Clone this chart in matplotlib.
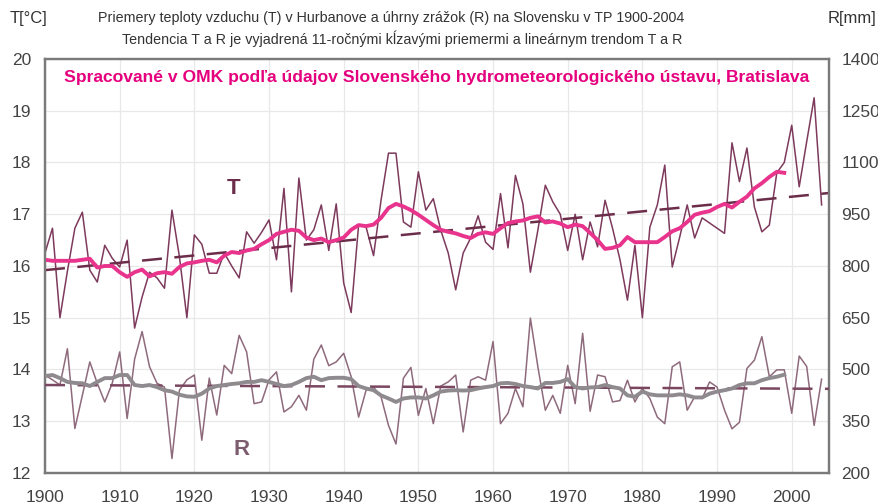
import numpy as np
import matplotlib.pyplot as plt

plt.rcParams['font.family'] = ['Liberation Sans', 'DejaVu Sans']

years = np.arange(1900, 2005)

# annual mean temperature (upper series, left axis)
temp = [16.25, 16.73, 15.0, 15.9, 16.73, 17.04, 15.92, 15.69, 16.4, 16.15,
        15.98, 16.5, 14.8, 15.4, 15.88, 15.77, 15.57, 17.08, 16.18, 15.0,
        16.6, 16.42, 15.86, 15.86, 16.25, 16.0, 15.77, 16.66, 16.44, 16.65,
        16.89, 16.12, 17.5, 15.5, 17.7, 16.5, 16.7, 17.18, 16.3, 17.2,
        15.67, 15.1, 16.8, 16.75, 16.2, 17.27, 18.18, 18.18, 16.85, 16.75,
        17.82, 17.08, 17.3, 16.69, 16.25, 15.54, 16.25, 16.54, 16.97, 16.46,
        16.32, 17.4, 16.35, 17.75, 17.2, 15.88, 16.69, 17.56, 17.24, 17.0,
        16.3, 17.0, 16.12, 16.85, 16.37, 17.27, 16.73, 16.12, 15.34, 16.4,
        15.0, 16.75, 17.18, 17.95, 15.98, 16.56, 17.18, 16.54, 16.93, 16.83,
        16.73, 16.63, 18.38, 17.63, 18.28, 17.14, 16.66, 16.79, 17.8, 18.0,
        18.72, 17.53, 18.4, 19.25, 17.18]

# 11-year moving average of T, as drawn (1900-1999)
smooth_years = np.arange(1900, 2000)
temp_smooth = [16.12, 16.1, 16.1, 16.1, 16.1, 16.12, 16.14, 15.97, 16.0, 16.0,
               15.88, 15.79, 15.88, 15.93, 15.8, 15.86, 15.88, 15.85, 15.98, 16.05,
               16.07, 16.1, 16.12, 16.07, 16.2, 16.27, 16.25, 16.3, 16.33, 16.42,
               16.5, 16.62, 16.66, 16.7, 16.68, 16.55, 16.5, 16.53, 16.46, 16.5,
               16.55, 16.7, 16.79, 16.77, 16.8, 16.93, 17.12, 17.2, 17.15, 17.08,
               16.99, 16.89, 16.79, 16.7, 16.66, 16.63, 16.58, 16.54, 16.62, 16.65,
               16.62, 16.73, 16.83, 16.86, 16.88, 16.93, 16.96, 16.84, 16.86, 16.82,
               16.75, 16.8, 16.77, 16.64, 16.5, 16.33, 16.35, 16.4, 16.56, 16.46,
               16.46, 16.46, 16.46, 16.56, 16.67, 16.73, 16.85, 16.99, 17.03, 17.06,
               17.14, 17.2, 17.13, 17.24, 17.34, 17.5, 17.6, 17.72, 17.82, 17.8]

# annual precipitation in mm (lower series, right axis)
rain = [484, 470, 455, 560, 329, 425, 522, 460, 406, 460,
        551, 358, 530, 610, 508, 460, 449, 242, 440, 470,
        484, 295, 475, 368, 512, 488, 599, 551, 401, 406,
        470, 493, 377, 392, 425, 382, 530, 571, 511, 522,
        547, 479, 362, 440, 449, 421, 338, 284, 475, 506,
        367, 445, 343, 452, 464, 484, 319, 469, 479, 469,
        581, 343, 373, 445, 392, 649, 508, 382, 425, 373,
        512, 401, 605, 379, 484, 479, 406, 410, 469, 406,
        445, 416, 362, 343, 508, 522, 382, 421, 416, 464,
        449, 382, 328, 347, 503, 527, 595, 479, 499, 499,
        373, 539, 509, 338, 472]

rain_smooth = [481, 484, 475, 464, 461, 460, 452, 464, 475, 475,
               484, 484, 455, 452, 455, 449, 440, 436, 427, 422,
               421, 430, 445, 452, 455, 458, 460, 464, 464, 469,
               464, 458, 452, 455, 464, 475, 479, 469, 475, 476,
               476, 472, 452, 445, 440, 425, 416, 406, 416, 419,
               419, 416, 425, 436, 439, 440, 439, 440, 445, 449,
               452, 460, 461, 458, 452, 449, 445, 461, 461, 464,
               472, 449, 445, 448, 449, 455, 449, 445, 425, 421,
               436, 428, 425, 425, 425, 428, 425, 419, 419, 430,
               436, 440, 445, 455, 460, 460, 469, 475, 479, 485]

# linear trends (end points read at 1900 and 2005)
trend_years = [1900, 2005]
temp_trend = [15.92, 17.41]
rain_trend = [455, 444]

decades = np.arange(1900, 2001, 10)
t_ticks = np.arange(12, 21, 1)
r_ticks = np.arange(200, 1401, 150)

fig = plt.figure(figsize=(8.79, 5.04), dpi=100)
ax = fig.add_axes([0.0512, 0.0615, 0.892, 0.8215])
ax2 = ax.twinx()

ax.plot(years, temp, color='#7d3a5c', lw=1.1, zorder=3)
ax.plot(trend_years, temp_trend, color='#6b2d4a', lw=1.8, dashes=(8, 5), zorder=4)
ax.plot(smooth_years, temp_smooth, color='#e8348c', lw=2.8, zorder=5)

ax2.plot(years, rain, color='#8e6a7c', lw=1.1, zorder=3)
ax2.plot(trend_years, rain_trend, color='#7a4660', lw=1.8, dashes=(8, 5), zorder=4)
ax2.plot(smooth_years, rain_smooth, color='#8f8a8e', lw=2.8, zorder=5)

ax.set_xlim(1900, 2005)
ax.set_ylim(12, 20)
ax2.set_ylim(200, 1400)
ax.set_xticks(decades)
ax.set_yticks(t_ticks)
ax2.set_yticks(r_ticks)
ax.grid(True, color='#e8e8e8', lw=0.9)
ax.set_axisbelow(True)

for a in (ax, ax2):
    a.tick_params(length=0, labelsize=12.5, labelcolor='#444444')
    for s in a.spines.values():
        s.set_color('#7a7a7a')
        s.set_linewidth(1.6)
ax.tick_params(axis='y', pad=10)
ax.tick_params(axis='x', pad=12)
ax2.tick_params(axis='y', pad=9)

fig.text(0.445, 0.965, 'Priemery teploty vzduchu (T) v Hurbanove a úhrny zrážok (R) na Slovensku v TP 1900-2004',
         ha='center', va='center', fontsize=10.3, color='#333333')
fig.text(0.458, 0.923, 'Tendencia T a R je vyjadrená 11-ročnými kĺzavými priemermi a lineárnym trendom T a R',
         ha='center', va='center', fontsize=10.3, color='#333333')
fig.text(0.011, 0.963, 'T[°C]', ha='left', va='center', fontsize=12, color='#333333')
fig.text(0.997, 0.963, 'R[mm]', ha='right', va='center', fontsize=12, color='#333333')

ax.text(0.5, 0.955, 'Spracované v OMK podľa údajov Slovenského hydrometeorologického ústavu, Bratislava',
        transform=ax.transAxes, ha='center', va='center', fontsize=12.6,
        fontweight='bold', color='#e5007e')
ax.text(1925.3, 17.5, 'T', ha='center', va='center', fontsize=16,
        fontweight='bold', color='#6b2d4a')
ax.text(1926.3, 12.45, 'R', ha='center', va='center', fontsize=16,
        fontweight='bold', color='#7d5c6e')

fig.savefig('out.png', dpi=100)
